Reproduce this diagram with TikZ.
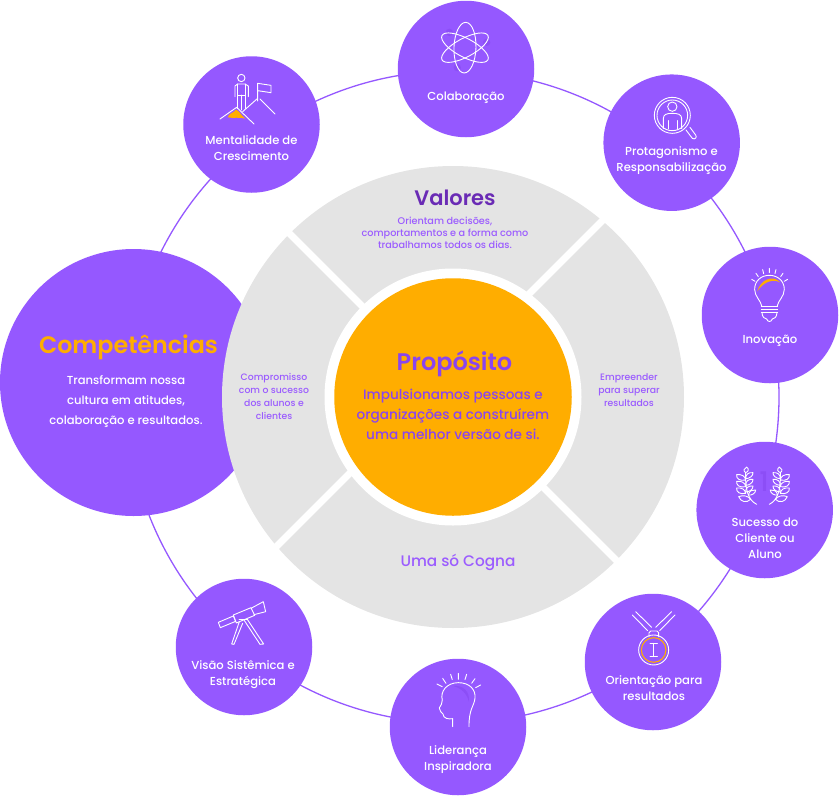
\documentclass[tikz,border=0pt]{standalone}
\usepackage{fontspec}
\usetikzlibrary{calc}
\setmainfont{Poppins Medium}
\newfontfamily\semifont{Poppins SemiBold}
\definecolor{pur}{HTML}{9558FF}
\definecolor{purtext}{HTML}{9B5CFF}
\definecolor{puronor}{HTML}{8A45EE}
\definecolor{purdim}{HTML}{8C4EF6}
\definecolor{purdark}{HTML}{6A2BB5}
\definecolor{orng}{HTML}{FFAD00}
\definecolor{gry}{HTML}{E4E4E4}
\tikzset{
  bubble/.style={circle,fill=pur,draw=none,inner sep=0pt,minimum size=136.5pt},
  captxt/.style={inner sep=0pt,align=center,text=white,font=\fontsize{11.6}{16}\selectfont},
  smalltxt/.style={inner sep=0pt,align=center,text=purtext,font=\fontsize{9.3}{13}\selectfont},
  ico/.style={draw=white,line width=.9pt,line cap=round,line join=round},
  orangeline/.style={draw=orng,line width=1.1pt},
  gapline/.style={draw=white,line width=7pt},
}
\begin{document}
\begin{tikzpicture}[x=1pt,y=-1pt]
\useasboundingbox (0,0) rectangle (839,796);
\coordinate (hub) at (453,397);
\draw[pur,line width=1.3pt] (hub) circle[radius=326pt];

\node[bubble] (ment) at (251.5,124.5) {};
\node[bubble] (cola) at (466,69) {};
\node[bubble] (prot) at (671.7,142.7) {};
\node[bubble] (inov) at (770,315) {};
\node[bubble] (suce) at (764.7,510) {};
\node[bubble] (orie) at (653,662) {};
\node[bubble] (lide) at (458,727) {};
\node[bubble] (visa) at (244,647) {};
\node[circle,fill=pur,inner sep=0pt,minimum size=267pt] (comp) at (133.5,382.5) {};

% gray wheel
\fill[gry] (hub) circle[radius=231pt];
\coordinate (tl) at ($(hub)+(-172,-172)$);
\coordinate (br) at ($(hub)+(172,172)$);
\coordinate (tr) at ($(hub)+(158,-185)$);
\coordinate (bl) at ($(hub)+(-185,158)$);
\begin{scope}
\clip (hub) circle[radius=232pt];
\draw[gapline] (hub) -- (tl);
\draw[gapline] (hub) -- (br);
\draw[gapline] ($(hub)+(-13.5,-13.5)$) -- (tr);
\draw[gapline] ($(hub)+(-13.5,-13.5)$) -- (bl);
\end{scope}
\fill[white] (hub) circle[radius=128.5pt];
\node[circle,fill=orng,inner sep=0pt,minimum size=237.5pt] (prop) at (hub) {};

% main texts
\node[inner sep=0pt,text=orng,font=\fontsize{23.8}{26}\selectfont\semifont] (t1) at (128.5,347.5) {Competências};
\node[captxt,font=\fontsize{11.6}{20}\selectfont] (t2) at (126,401.5) {Transformam nossa\\cultura em atitudes,\\colaboração e resultados.};
\node[inner sep=0pt,text=purdark,font=\fontsize{21}{24}\selectfont\semifont] (t3) at (455,197.5) {Valores};
\node[smalltxt,font=\fontsize{9.7}{12}\selectfont] (t4) at (445,233) {Orientam decisões,\\comportamentos e a forma como\\trabalhamos todos os dias.};
\node[smalltxt] (t5) at (274,396.5) {Compromisso\\com o sucesso\\dos alunos e\\clientes};
\node[smalltxt] (t6) at (629,390.5) {Empreender\\para superar\\resultados};
\node[inner sep=0pt,text=puronor,font=\fontsize{24}{26}\selectfont\semifont] (t7) at (454.5,363.5) {Propósito};
\node[inner sep=0pt,align=center,text=puronor,font=\fontsize{13.6}{20}\selectfont] (t8) at (453,414) {Impulsionamos pessoas e\\organizações a construírem\\uma melhor versão de si.};
\node[inner sep=0pt,text=purtext,font=\fontsize{15.3}{18}\selectfont] (t9) at (458,562.5) {Uma só Cogna};

% captions
\node[captxt] (c1) at (251.5,148) {Mentalidade de\\Crescimento};
\node[captxt] (c2) at (466,97.5) {Colaboração};
\node[captxt] (c3) at (671.5,160.5) {Protagonismo e\\Responsabilização};
\node[captxt] (c4) at (770,340.5) {Inovação};
\node[captxt] (c5) at (765,538) {Sucesso do\\Cliente ou\\Aluno};
\node[captxt] (c6) at (654,688) {Orientação para\\resultados};
\node[captxt] (c7) at (458,759.5) {Liderança\\Inspiradora};
\node[captxt] (c8) at (243,675) {Visão Sistêmica e\\Estratégica};

% icon: growth mindset
\begin{scope}[shift={(170,0)},x=.3333pt,y=-.3333pt]
\fill[orng] (173,352) .. controls (178,338) and (190,340) .. (198,329) .. controls (208,332) and (212,345) .. (226,356) .. controls (208,350) and (190,356) .. (173,352) -- cycle;
\draw[ico] (214,234) circle[radius=11];
\draw[ico] (195,290) -- (195,258) -- (203,252) -- (225,252) -- (235,258) -- (235,290);
\draw[ico] (203,252) -- (203,325) (225,252) -- (225,325) (214,285) -- (214,330);
\draw[ico] (203,285) -- (225,285);
\draw[ico] (150,357) -- (200,322) (200,322) -- (252,372);
\draw[ico] (218,335) -- (263,295) (270,297) -- (315,342);
\draw[ico] (263,303) -- (263,250) -- (303,256) -- (303,278) -- (263,272);
\end{scope}

% icon: atom
\begin{scope}[shift={(170,0)},x=.3333pt,y=-.3333pt]
\fill[purdim] (838,97) circle[radius=11] (950,127) circle[radius=11] (862,203) circle[radius=11];
\draw[ico] (885,143) ellipse[x radius=76,y radius=33,rotate=88];
\draw[ico] (885,143) ellipse[x radius=78,y radius=28,rotate=28];
\draw[ico] (885,143) ellipse[x radius=78,y radius=28,rotate=-28];
\end{scope}

% icon: magnifier
\begin{scope}[shift={(600,80)},x=.3333pt,y=-.3333pt]
\draw[ico] (217,106) circle[radius=54] (217,106) circle[radius=46];
\draw[ico] (217,80) circle[radius=14];
\draw[ico] (190,146) -- (190,116) .. controls (190,103) and (200,100) .. (217,100) .. controls (234,100) and (245,103) .. (245,116) -- (245,146);
\draw[ico] (204,122) -- (204,146) (231,122) -- (231,146);
\draw[ico] (258,150) -- (277,175) .. controls (285,180) and (292,172) .. (287,165) -- (270,142);
\end{scope}

% icon: bulb
\begin{scope}[shift={(600,80)},x=.3333pt,y=-.3333pt]
\fill[orng] (472,634) .. controls (480,600) and (520,582) .. (540,607) .. controls (520,596) and (490,605) .. (472,634) -- cycle;
\draw[ico] (486,680) .. controls (482,660) and (464,650) .. (464,628) .. controls (464,602) and (484,586) .. (508,586) .. controls (532,586) and (553,602) .. (553,628) .. controls (553,650) and (535,660) .. (531,680);
\draw[ico] (484,680) -- (533,680) (484,689) -- (533,689) (484,697) -- (533,697);
\draw[ico] (486,697) .. controls (486,712) and (495,717) .. (500,717) .. controls (503,727) and (514,727) .. (517,717) .. controls (522,717) and (531,712) .. (531,697);
\draw[ico] (508,565) -- (508,578) (488,569) -- (491,581) (528,569) -- (525,581) (468,580) -- (475,590) (549,580) -- (542,590) (455,598) -- (465,604) (563,598) -- (553,604);
\end{scope}

% icon: wheat
\begin{scope}[shift={(580,440)},x=.3333pt,y=-.3333pt]
\node[inner sep=0pt,text=purdim,font=\fontsize{27}{28}\selectfont] (one) at (552,125) {1};
\draw[ico] (530,193) .. controls (505,180) and (495,150) .. (497,98);
\draw[ico] (497,98) .. controls (488,92) and (493,85) .. (500,81) .. controls (508,88) and (506,94) .. (497,98);
\foreach \y in {112,132,152}{
  \draw[ico] (497,\y+8) .. controls (480,\y+12) and (468,\y+4) .. (470,\y-8) .. controls (484,\y-10) and (496,\y-4) .. (497,\y+8);
  \draw[ico] (497,\y+4) .. controls (508,\y+4) and (520,\y-4) .. (519,\y-14) .. controls (506,\y-16) and (496,\y-8) .. (497,\y+4);
}
\draw[ico] (512,178) .. controls (500,190) and (482,186) .. (476,170) .. controls (490,164) and (505,168) .. (512,178);
\draw[ico] (505,165) .. controls (515,167) and (527,160) .. (527,150) .. controls (518,148) and (508,152) .. (505,165);
\draw[ico] (568,193) .. controls (593,180) and (603,150) .. (601,98);
\draw[ico] (601,98) .. controls (610,92) and (605,85) .. (598,81) .. controls (590,88) and (592,94) .. (601,98);
\foreach \y in {112,132,152}{
  \draw[ico] (601,\y+8) .. controls (618,\y+12) and (630,\y+4) .. (628,\y-8) .. controls (614,\y-10) and (602,\y-4) .. (601,\y+8);
  \draw[ico] (601,\y+4) .. controls (590,\y+4) and (578,\y-4) .. (579,\y-14) .. controls (592,\y-16) and (602,\y-8) .. (601,\y+4);
}
\draw[ico] (586,178) .. controls (598,190) and (616,186) .. (622,170) .. controls (608,164) and (593,168) .. (586,178);
\draw[ico] (593,165) .. controls (583,167) and (571,160) .. (571,150) .. controls (580,148) and (590,152) .. (593,165);
\end{scope}

% icon: medal
\begin{scope}[shift={(580,440)},x=.3333pt,y=-.3333pt]
\draw[ico] (157,525) -- (203,572) (167,515) -- (215,562);
\draw[ico] (285,525) -- (239,572) (275,515) -- (227,562);
\draw[ico] (207,590) -- (207,578) -- (212,573) -- (231,573) -- (236,578) -- (236,590);
\draw[ico] (221,630) circle[radius=45];
\draw[orangeline] (221,630) circle[radius=37];
\draw[ico] (221,610) -- (221,650) (210,610) -- (232,610) (210,650) -- (232,650);
\end{scope}

% icon: telescope
\begin{scope}[shift={(170,580)},x=.3333pt,y=-.3333pt]
\draw[ico] (145,127) -- (190,108) -- (197,124) -- (151,143) -- cycle;
\draw[ico] (190,105) -- (243,83) -- (254,106) -- (199,129) -- cycle;
\draw[ico] (243,85) -- (280,65) -- (287,95) -- (252,104);
\draw[ico] (208,125) -- (185,192) -- (192,193) -- (218,130);
\draw[ico] (222,120) -- (270,193) -- (281,192) -- (232,118);
\draw[ico] (207,118) -- (232,118);
\end{scope}

% icon: head
\begin{scope}[shift={(170,580)},x=.3333pt,y=-.3333pt]
\fill[purdim] (850,318) .. controls (880,315) and (900,335) .. (897,365) .. controls (890,340) and (875,325) .. (850,318) -- cycle;
\draw[ico] (848,440) -- (848,416) .. controls (835,418) and (820,416) .. (819,402) .. controls (815,398) and (808,392) .. (808,384) .. controls (812,376) and (818,370) .. (817,360) .. controls (810,335) and (830,308) .. (865,308) .. controls (900,308) and (918,330) .. (915,355) .. controls (912,380) and (897,385) .. (897,440);
\draw[ico] (865,280) -- (865,298) (842,283) -- (847,299) (890,283) -- (885,299) (818,295) -- (828,310) (915,296) -- (905,310) (801,312) -- (817,320) (932,315) -- (917,323);
\end{scope}
\end{tikzpicture}
\end{document}
